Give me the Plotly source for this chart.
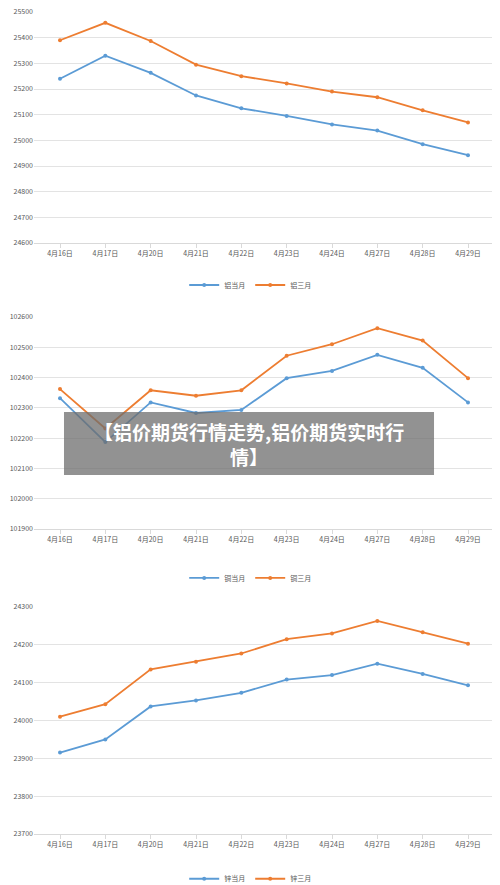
import plotly.graph_objects as go

dates = ["4月16日", "4月17日", "4月20日", "4月21日", "4月22日",
         "4月23日", "4月24日", "4月27日", "4月28日", "4月29日"]

al_cur = [25240, 25330, 25263, 25175, 25125, 25095, 25062, 25038, 24985, 24942]
al_3m = [25390, 25458, 25387, 25295, 25250, 25222, 25190, 25168, 25117, 25070]

cu_cur = [102332, 102187, 102318, 102283, 102293, 102398, 102422, 102475, 102432, 102318]
cu_3m = [102362, 102232, 102358, 102340, 102358, 102472, 102510, 102563, 102522, 102398]

zn_cur = [23915, 23950, 24037, 24053, 24073, 24108, 24120, 24150, 24123, 24093]
zn_3m = [24010, 24043, 24135, 24155, 24177, 24215, 24230, 24263, 24233, 24203]

BLUE = "#5b9bd5"
ORANGE = "#ed7d31"

charts = [
    (al_cur, al_3m, "铝当月", "铝三月", [24600, 25500], (0.7304, 0.9965), 0.682),
    (cu_cur, cu_3m, "铜当月", "铜三月", [101900, 102600], (0.4009, 0.6452), 0.3445),
    (zn_cur, zn_3m, "锌当月", "锌三月", [23700, 24300], (0.0496, 0.3111), -0.002),
]

fig = go.Figure()
layout = {}
for i, (cur, m3, n1, n2, rng, dom, ly) in enumerate(charts, start=1):
    sfx = "" if i == 1 else str(i)
    leg = "legend" + sfx
    for vals, name, col in [(cur, n1, BLUE), (m3, n2, ORANGE)]:
        fig.add_trace(go.Scatter(
            x=dates, y=vals, name=name, mode="lines+markers",
            line=dict(color=col, width=1.8), marker=dict(size=4, color=col),
            xaxis="x" + sfx, yaxis="y" + sfx, legend=leg,
        ))
    layout["xaxis" + sfx] = dict(
        domain=[0, 1], anchor="y" + sfx, showgrid=False, automargin=False,
        showline=True, linecolor="#d9d9d9", ticks="outside", tickcolor="#d9d9d9",
        ticklen=4, tickfont=dict(size=7, color="#595959"),
    )
    layout["yaxis" + sfx] = dict(
        domain=list(dom), anchor="x" + sfx, range=rng, dtick=100, tick0=0,
        automargin=False, showgrid=True, gridcolor="#e3e3e3", zeroline=False,
        tickfont=dict(size=7, color="#595959"), tickformat="d",
        ticklabeloverflow="allow",
    )
    layout[leg] = dict(
        orientation="h", x=0.47, xanchor="center", y=ly, yanchor="middle",
        font=dict(size=7, color="#595959"), bgcolor="rgba(0,0,0,0)",
        itemwidth=30,
    )

fig.update_layout(**layout)

# overlay banner
fig.add_shape(type="rect", xref="paper", yref="paper",
              x0=0.0652, x1=0.8696, y0=0.4631, y1=0.5357,
              fillcolor="rgba(110,110,110,0.75)", line_width=0)
fig.add_annotation(
    text="<b>【铝价期货行情走势,铝价期货实时行<br>情】</b>",
    xref="paper", yref="paper", x=0.467, y=0.4994, showarrow=False,
    font=dict(size=19, color="white", family="Noto Sans CJK SC"),
)

fig.update_layout(
    width=500, height=885,
    margin=dict(l=26, r=14, t=1, b=16, autoexpand=False),
    paper_bgcolor="white", plot_bgcolor="white",
    font=dict(family="Noto Sans CJK SC"),
)

fig.write_html("out.html")
